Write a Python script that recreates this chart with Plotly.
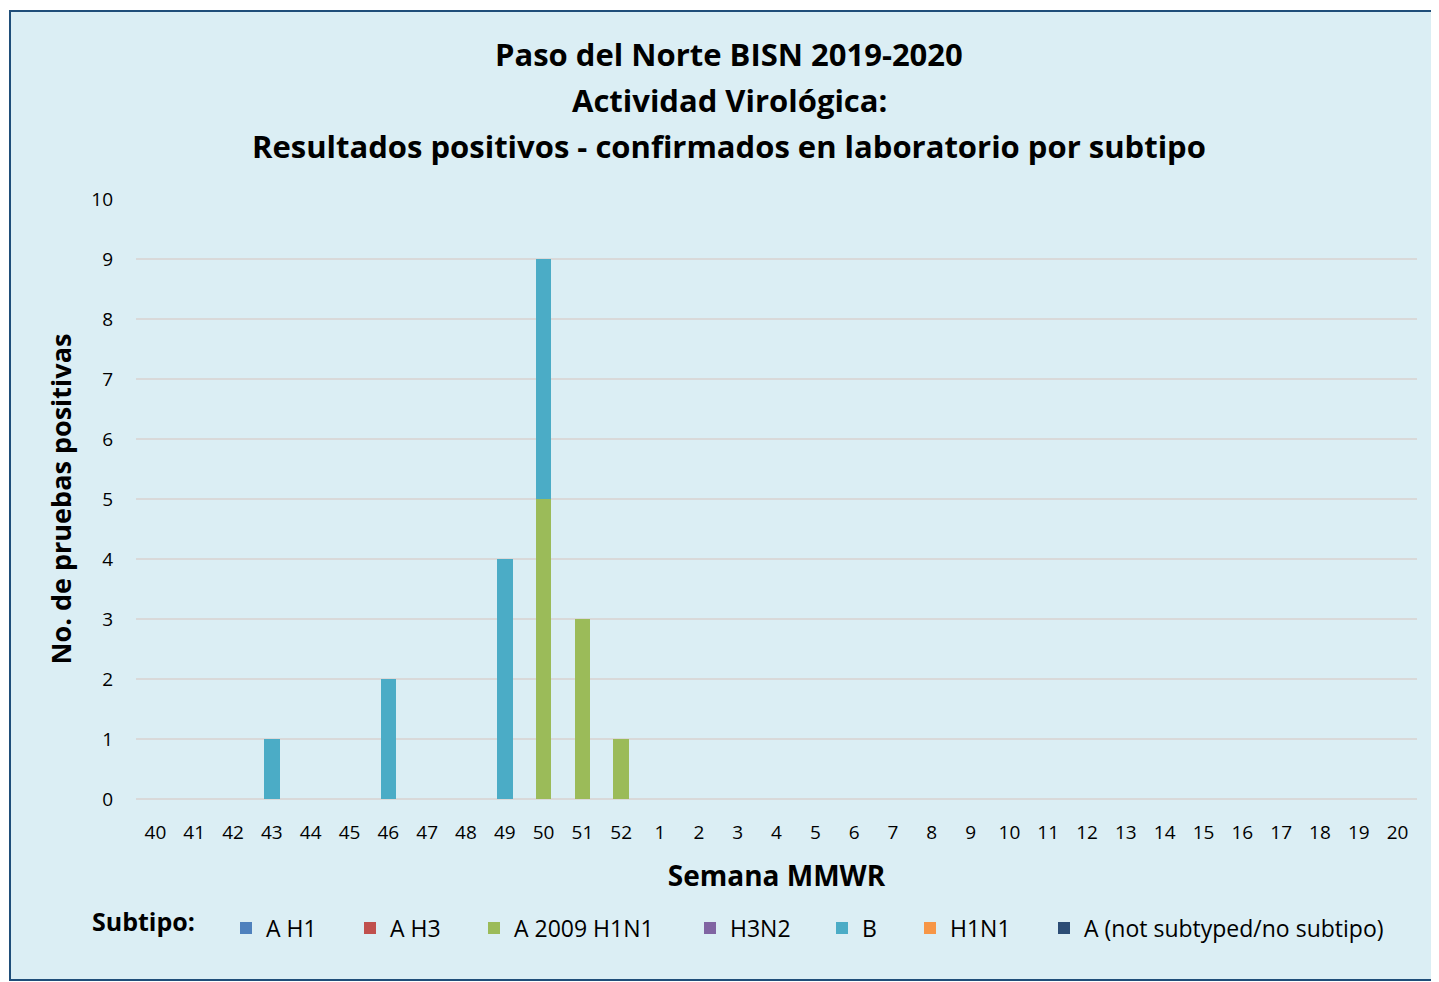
import plotly.graph_objects as go

weeks = [str(w) for w in range(40, 53)] + [str(w) for w in range(1, 21)]

series_names = ["A H1", "A H3", "A 2009 H1N1", "H3N2", "B", "H1N1", "A (not subtyped/no subtipo)"]
colors = ["#4F81BD", "#C0504D", "#9BBB59", "#8064A2", "#4BACC6", "#F79646", "#2C4D75"]

a_h1 = [0] * 33
a_h3 = [0] * 33
a_2009_h1n1 = [0, 0, 0, 0, 0, 0, 0, 0, 0, 0, 5, 3, 1] + [0] * 20
h3n2 = [0] * 33
b = [0, 0, 0, 1, 0, 0, 2, 0, 0, 4, 4, 0, 0] + [0] * 20
h1n1 = [0] * 33
a_not_subtyped = [0] * 33
values = [a_h1, a_h3, a_2009_h1n1, h3n2, b, h1n1, a_not_subtyped]

# page body has an 8px margin: the figure starts at (8, 8) in the window
OFF = 8
W, H = 1439 - OFF, 982 - OFF
L, R, T, B = 136 - OFF, 22, 199 - OFF, 183
pw, ph = W - L - R, H - T - B

def px_x(px):
    return (px - OFF - L) / pw

def px_y(py):
    return (H - B - (py - OFF)) / ph

FONT = "Open Sans"
legend_px = [226, 350, 474, 690, 822, 910, 1044]

fig = go.Figure()
for i, (name, vals, col) in enumerate(zip(series_names, values, colors)):
    fig.add_trace(go.Bar(x=weeks, y=vals, name=name, marker=dict(color=col, line=dict(width=0)),
                         legend="legend" if i == 0 else f"legend{i+1}"))

layout_legends = {}
for i, xp in enumerate(legend_px):
    key = "legend" if i == 0 else f"legend{i+1}"
    layout_legends[key] = dict(x=px_x(xp), xanchor="left", y=px_y(928), yanchor="middle",
                               orientation="h", bgcolor="rgba(0,0,0,0)",
                               font=dict(family=FONT, size=23, color="#000000"))

fig.update_layout(
    width=W, height=H,
    margin=dict(l=L, r=R, t=T, b=B),
    paper_bgcolor="#FFFFFF",
    plot_bgcolor="rgba(0,0,0,0)",
    barmode="stack",
    bargap=0.6,
    showlegend=True,
    font=dict(family=FONT, color="#000000"),
    **layout_legends,
)

fig.update_xaxes(type="category", categoryorder="array", categoryarray=weeks,
                 tickfont=dict(family=FONT, size=19, color="#000000"),
                 ticks="", showgrid=False, ticklabelstandoff=20,
                 title=dict(text="<b>Semana MMWR</b>", font=dict(family=FONT, size=28, color="#000000"), standoff=22),
                 automargin=False, showline=False, zeroline=False)
fig.update_yaxes(range=[0, 10], dtick=1, tick0=0,
                 tickfont=dict(family=FONT, size=19, color="#000000"),
                 showgrid=True, gridcolor="#D9D9D9", gridwidth=2,
                 zeroline=True, zerolinecolor="#D9D9D9", zerolinewidth=2,
                 ticks="", ticklabelstandoff=22,
                 title=dict(text="<b>No. de pruebas positivas</b>", font=dict(family=FONT, size=27, color="#000000"), standoff=11),
                 automargin=False, showline=False)

# chart area background and border
fig.add_shape(type="rect", xref="paper", yref="paper",
              x0=px_x(10), x1=px_x(1450), y0=px_y(980), y1=px_y(11),
              fillcolor="#DBEEF4", line=dict(color="#1F4E79", width=2), layer="below")

title_lines = ["Paso del Norte BISN 2019-2020", "Actividad Virológica:",
               "Resultados positivos - confirmados en laboratorio por subtipo"]
for line, py in zip(title_lines, [54, 100, 146]):
    fig.add_annotation(text=f"<b>{line}</b>", xref="paper", yref="paper",
                       x=px_x(729), y=px_y(py), xanchor="center", yanchor="middle",
                       showarrow=False, font=dict(family=FONT, size=31, color="#000000"))

fig.add_annotation(text="<b>Subtipo:</b>", xref="paper", yref="paper",
                   x=px_x(90), y=px_y(921), xanchor="left", yanchor="middle",
                   showarrow=False, font=dict(family=FONT, size=25, color="#000000"))

fig.write_html("out.html")
